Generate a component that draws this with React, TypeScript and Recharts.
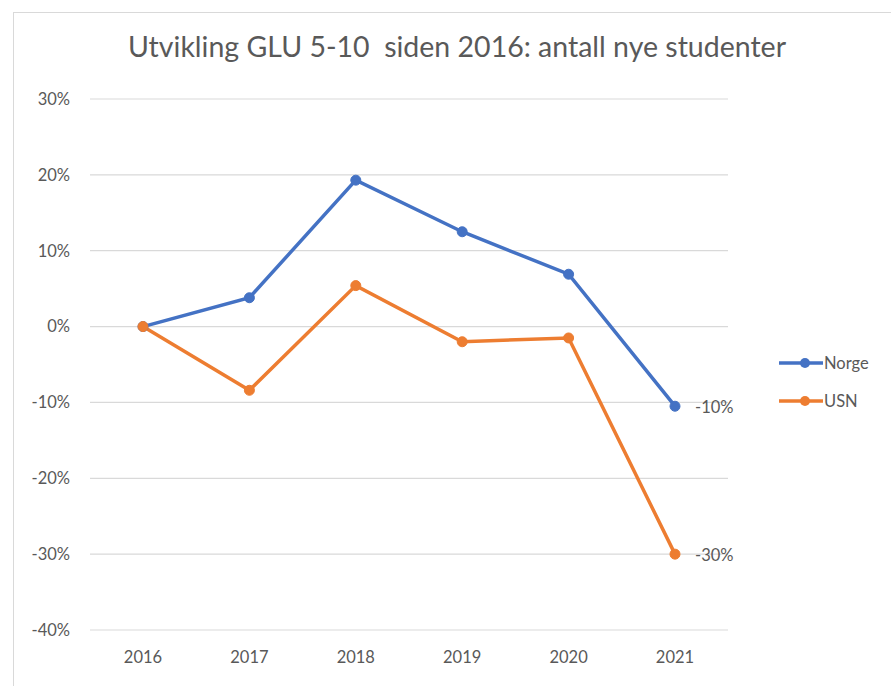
import React from "react";
import { CartesianGrid, LabelList, Line, LineChart, XAxis, YAxis } from "recharts";

const years = ["2016", "2017", "2018", "2019", "2020", "2021"];
const norge = [0, 0.038, 0.193, 0.125, 0.069, -0.105];
const usn = [0, -0.084, 0.054, -0.02, -0.015, -0.3];
const yTicks = [-0.4, -0.3, -0.2, -0.1, 0, 0.1, 0.2, 0.3];
const seriesNames = ["Norge", "USN"];

const BLUE = "#4472C4";
const ORANGE = "#ED7D31";
const seriesColors = [BLUE, ORANGE];
const TEXT = "#595959";
const FONT = "Lato, 'Open Sans', sans-serif";

const data = years.map((year, i) => ({ year, norge: norge[i], usn: usn[i] }));

const pct = (v: number) => `${Math.round(v * 100)}%`;

function lastLabel(props: any) {
  const { x, y, index, value } = props;
  if (index !== years.length - 1) return null;
  return (
    <text x={x + 20} y={y + 3} fill={TEXT} fontSize={16.5} fontFamily={FONT} dominantBaseline="middle">
      {pct(value)}
    </text>
  );
}

function ChartLegend() {
  return (
    <div style={{ position: "absolute", left: 779, top: 344, fontFamily: FONT, fontSize: 16.5, color: TEXT }}>
      {seriesNames.map((name, i) => (
        <div key={name} style={{ display: "flex", alignItems: "center", height: 38 }}>
          <svg width={44} height={12}>
            <line x1={0} y1={6} x2={44} y2={6} stroke={seriesColors[i]} strokeWidth={3.5} />
            <circle cx={26} cy={6} r={5} fill={seriesColors[i]} />
          </svg>
          <span style={{ marginLeft: 1 }}>{name}</span>
        </div>
      ))}
    </div>
  );
}

export default function App() {
  return (
    <div style={{ position: "absolute", left: 0, top: 0, width: 891, height: 686, overflow: "hidden", background: "#fff" }}>
      <div
        style={{
          position: "absolute",
          left: 13,
          top: 12,
          width: 1000,
          height: 800,
          border: "1px solid #d9d9d9",
        }}
      />
      <div
        style={{
          position: "absolute",
          left: 0,
          top: 29,
          width: 914,
          textAlign: "center",
          fontFamily: FONT,
          fontSize: 28.5,
          color: TEXT,
          whiteSpace: "pre",
        }}
      >
        {"Utvikling GLU 5-10  siden 2016: antall nye studenter"}
      </div>
      <div style={{ position: "absolute", left: 0, top: 0 }}>
        <LineChart width={891} height={686} data={data} margin={{ top: 99, right: 163, bottom: 26, left: 0 }}>
          <CartesianGrid vertical={false} stroke="#d9d9d9" strokeWidth={1.2} />
          <XAxis
            dataKey="year"
            height={30}
            padding={{ left: 53, right: 53 }}
            tickLine={false}
            axisLine={false}
            tickMargin={15}
            tick={{ fill: TEXT, fontSize: 16.5, fontFamily: FONT }}
          />
          <YAxis
            width={90}
            domain={[-0.4, 0.3]}
            ticks={yTicks}
            tickFormatter={pct}
            tickLine={false}
            axisLine={false}
            tickMargin={14}
            tick={{ fill: TEXT, fontSize: 16.5, fontFamily: FONT }}
          />
          <Line
            name="Norge"
            dataKey="norge"
            stroke={BLUE}
            strokeWidth={3.5}
            dot={{ r: 5, fill: BLUE, stroke: BLUE, strokeWidth: 1 }}
            isAnimationActive={false}
          >
            <LabelList dataKey="norge" content={lastLabel} />
          </Line>
          <Line
            name="USN"
            dataKey="usn"
            stroke={ORANGE}
            strokeWidth={3.5}
            dot={{ r: 5, fill: ORANGE, stroke: ORANGE, strokeWidth: 1 }}
            isAnimationActive={false}
          >
            <LabelList dataKey="usn" content={lastLabel} />
          </Line>
        </LineChart>
      </div>
      <ChartLegend />
    </div>
  );
}
